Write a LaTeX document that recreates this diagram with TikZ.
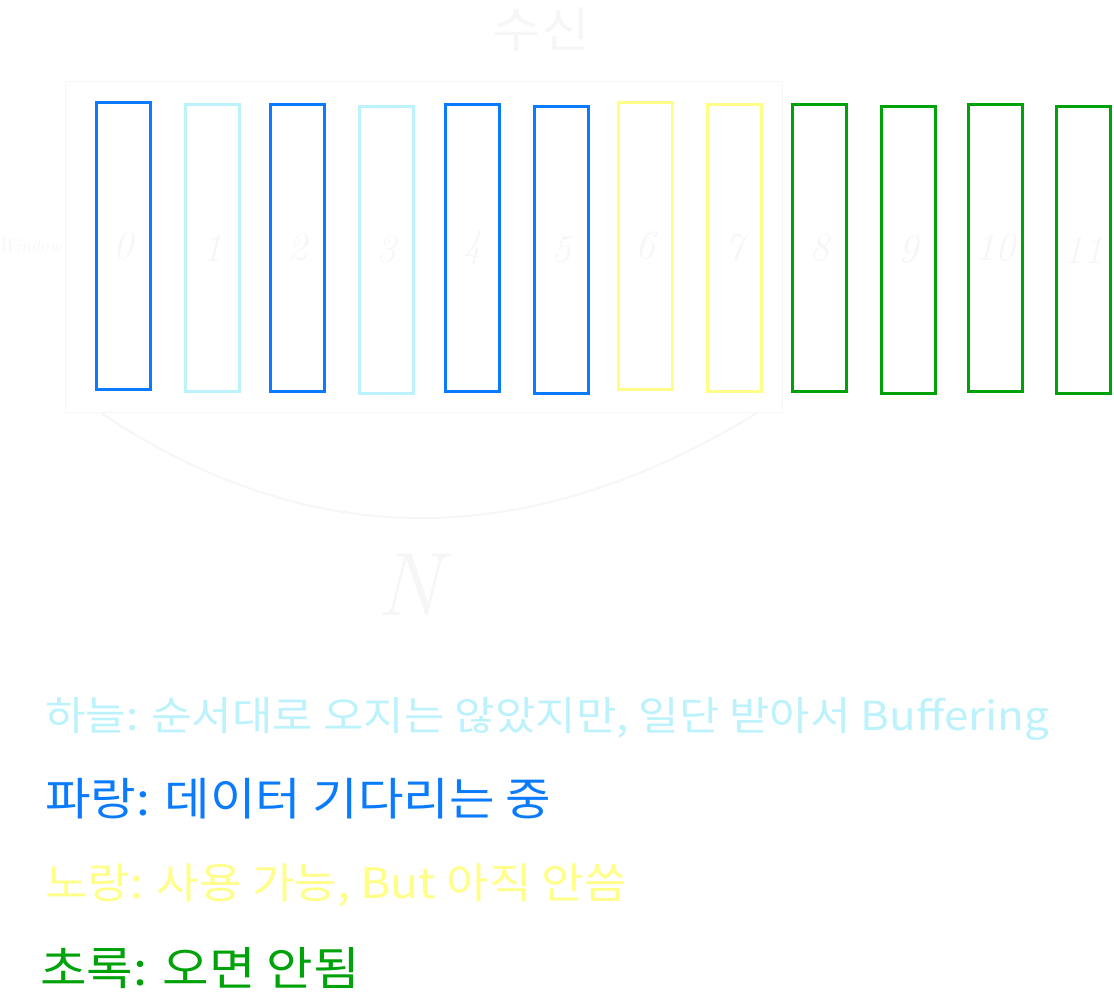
\documentclass[tikz,border=0pt]{standalone}
\usepackage{fontspec}
\usepackage{xcolor}
\usepackage{tikz}
\newfontfamily\kr[FakeStretch=1.1]{Noto Sans CJK KR}
\definecolor{faint}{RGB}{246,246,246}
\definecolor{sky}{RGB}{188,242,252}
\definecolor{blu}{RGB}{10,123,255}
\definecolor{yel}{RGB}{255,255,136}
\definecolor{grn}{RGB}{0,162,10}

\begin{document}
\begin{tikzpicture}[x=1pt, y=-1pt,
  slot/.style={draw, line width=3pt, minimum width=54pt, minimum height=287pt, inner sep=0pt},
  num/.style={text=faint, font=\fontsize{40}{40}\selectfont\itshape},
  legend/.style={anchor=base west, inner sep=0pt, font=\kr\fontsize{#1}{#1}\selectfont}]
  \useasboundingbox (0,0) rectangle (1114,1000);
  % receive window (faint)
  \draw[faint, line width=1pt] (65,82) rectangle (782,412);
  \node[text=faint, font=\kr\fontsize{48}{48}\selectfont] (recv) at (541,30) {수신};
  \node[text=faint, anchor=east, inner sep=1pt, font=\itshape\fontsize{18}{18}\selectfont] (win) at (62,245) {Window};
  % sequence slots
  \foreach \i/\x/\y/\c in {0/123.5/246/blu, 1/212/248/sky, 2/297/248/blu, 3/386/250/sky,
      4/472.5/248/blu, 5/561.5/250/blu, 6/645.5/246/yel, 7/734/248/yel,
      8/819/248/grn, 9/908/250/grn, 10/995/248/grn, 11/1083.5/250/grn} {
    \node[slot, draw=\c] (s\i) at (\x,\y) {};
    \node[num] (n\i) at (s\i) {\i};
  }
  \draw[faint, line width=2pt] (101,413) .. controls (310,553) and (528,553) .. (757,413);
  \node[text=faint, font=\fontsize{90}{90}\selectfont\itshape] (N) at (409,585) {N};
  % legend
  \node[legend=40, text=sky] (l1) at (45,730) {하늘: 순서대로 오지는 않았지만, 일단 받아서 Buffering};
  \node[legend=45, text=blu] (l2) at (45,815) {파랑: 데이터 기다리는 중};
  \node[legend=42, text=yel] (l3) at (45,898) {노랑: 사용 가능, But 아직 안씀};
  \node[legend=46, text=grn] (l4) at (40,985) {초록: 오면 안됨};
\end{tikzpicture}
\end{document}
